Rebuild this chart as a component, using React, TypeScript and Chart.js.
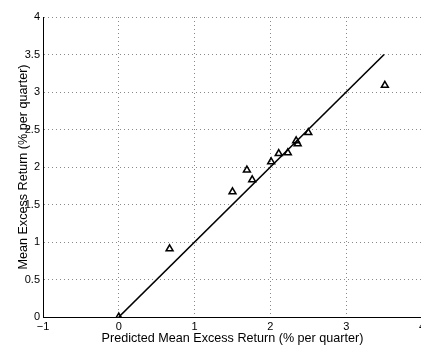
import React, { useEffect, useRef } from "react";
import { Chart, registerables } from "chart.js";
Chart.register(...registerables);

const predicted = [0, 0.67, 1.5, 1.69, 1.76, 2.01, 2.11, 2.23, 2.34, 2.36, 2.5, 3.51];
const actual = [0, 0.91, 1.67, 1.96, 1.83, 2.07, 2.18, 2.19, 2.35, 2.31, 2.46, 3.09];
const fitX = [0, 3.5];
const fitY = [0, 3.5];
const xTitle = "Predicted Mean Excess Return (% per quarter)";
const yTitle = "Mean Excess Return (% per quarter)";

const fmt = (v: number | string) => String(Number(v)).replace("-", "\u2212");

export default function App() {
  const ref = useRef<HTMLCanvasElement>(null);
  useEffect(() => {
    document.body.style.margin = "0";
    const font = { family: "'Liberation Sans', Arial, sans-serif", size: 11 };
    const titleFont = { family: "'Liberation Sans', Arial, sans-serif", size: 12.6 };
    const grid = {
      color: "#8a8a8a",
      lineWidth: 1,
      drawTicks: false,
    };
    const border = { display: true, color: "#000", width: 1, dash: [1, 3] };
    const chart = new Chart(ref.current!, {
      type: "scatter",
      data: {
        datasets: [
          {
            type: "line",
            data: fitX.map((x, i) => ({ x, y: fitY[i] })),
            borderColor: "#000",
            borderWidth: 1.6,
            pointRadius: 0,
            fill: false,
          } as any,
          {
            data: predicted.map((x, i) => ({ x, y: actual[i] })),
            pointStyle: "triangle",
            pointRadius: 4,
            borderColor: "#000",
            borderWidth: 1.5,
            backgroundColor: "rgba(255,255,255,0)",
          },
        ],
      },
      options: {
        animation: false,
        responsive: false,
        devicePixelRatio: 1,
        layout: { padding: { left: 0, top: 17, right: 18, bottom: 0 } },
        plugins: { legend: { display: false }, tooltip: { enabled: false } },
        scales: {
          x: {
            type: "linear",
            min: -1,
            max: 4,
            ticks: { stepSize: 1, color: "#000", font, padding: 3, maxRotation: 0, callback: (v: any) => fmt(v) },
            grid: grid as any,
            border: border as any,
            title: { display: true, text: xTitle, color: "#000", font: titleFont, padding: { top: 0, bottom: 0 } },
            afterFit: (s: any) => { s.height = 29; },
          },
          y: {
            type: "linear",
            min: 0,
            max: 4,
            ticks: { stepSize: 0.5, color: "#000", font, padding: 3, callback: (v: any) => fmt(v) },
            grid: grid as any,
            border: border as any,
            title: { display: true, text: yTitle, color: "#000", font: titleFont, padding: { top: 16, bottom: 0 } },
            afterFit: (s: any) => { s.width = 43; },
          },
        },
      },
    });
    return () => chart.destroy();
  }, []);
  return (
    <div style={{ position: "fixed", left: 0, top: 0, width: 421, height: 346, overflow: "hidden", background: "#fff" }}>
      <canvas ref={ref} width={440} height={346} style={{ width: 440, height: 346, display: "block" }} />
    </div>
  );
}
